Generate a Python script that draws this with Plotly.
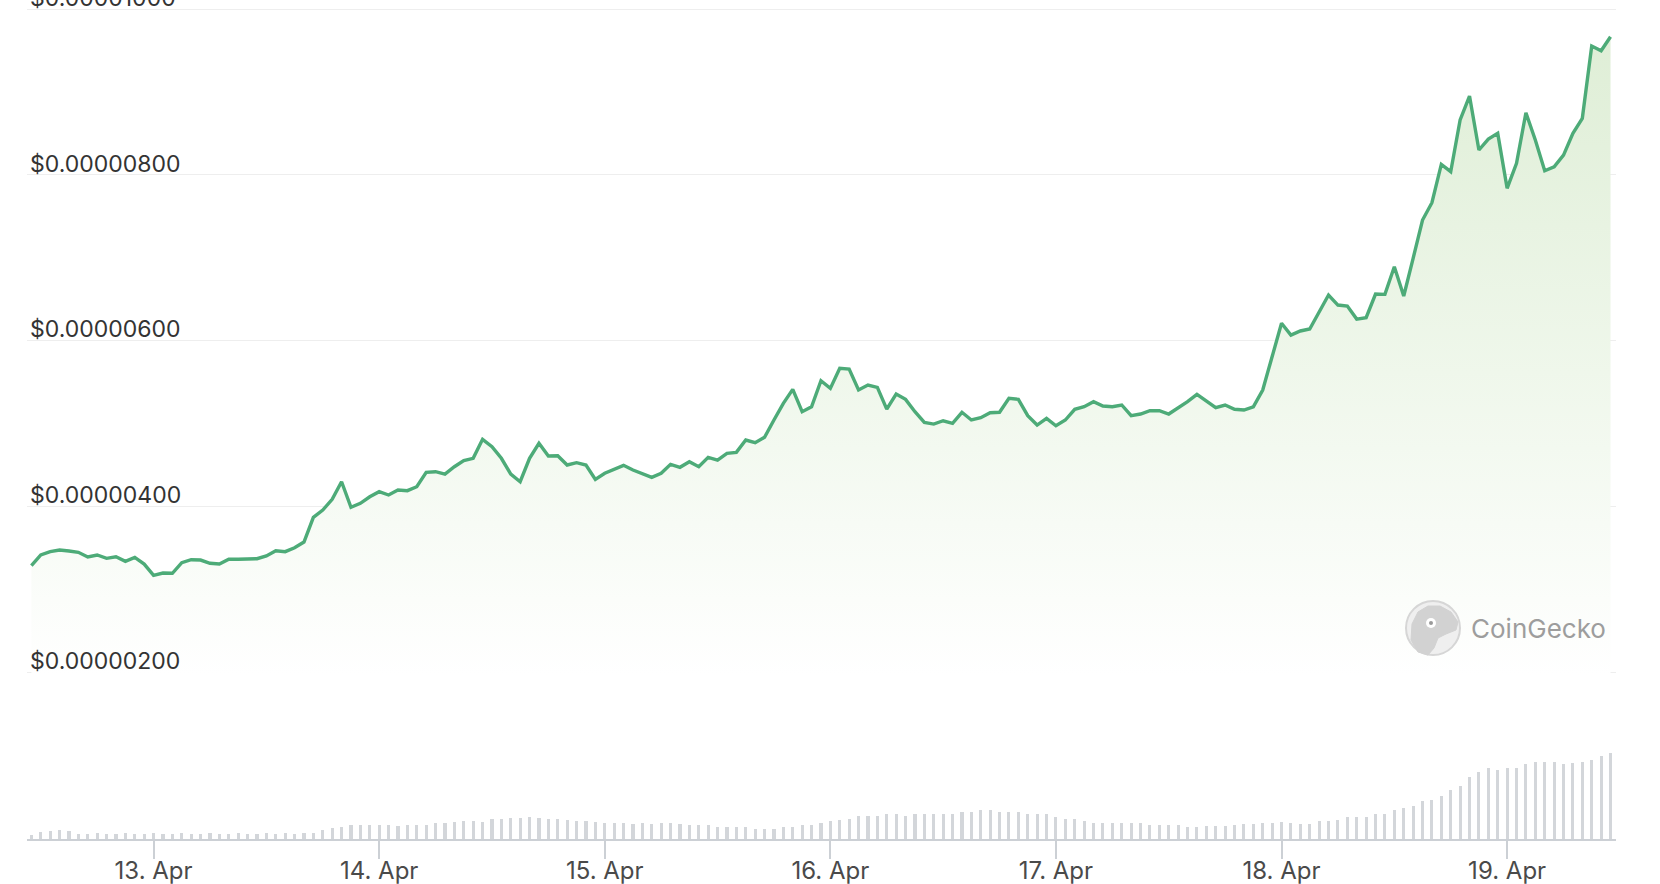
import pandas as pd
import plotly.graph_objects as go

# ---------------- data ----------------
start_time = "2024-04-12 11:00"
n_hours = 169

# price in micro-dollars (1e-6 USD), hourly
price_micro = [
    3.283, 3.412, 3.452, 3.472, 3.460, 3.444, 3.388, 3.412, 3.372, 3.391,
    3.336, 3.384, 3.303, 3.167, 3.195, 3.191, 3.319, 3.355, 3.351, 3.312,
    3.303, 3.360, 3.360, 3.364, 3.367, 3.400, 3.464, 3.452, 3.500, 3.569,
    3.867, 3.955, 4.084, 4.296, 3.987, 4.036, 4.115, 4.176, 4.136, 4.196,
    4.188, 4.236, 4.410, 4.417, 4.389, 4.477, 4.550, 4.579, 4.808, 4.719,
    4.579, 4.389, 4.296, 4.579, 4.760, 4.606, 4.610, 4.498, 4.526, 4.498,
    4.325, 4.398, 4.449, 4.494, 4.437, 4.389, 4.349, 4.398, 4.506, 4.470,
    4.538, 4.477, 4.591, 4.558, 4.639, 4.651, 4.799, 4.767, 4.832, 5.041,
    5.242, 5.411, 5.141, 5.201, 5.515, 5.423, 5.665, 5.656, 5.403, 5.463,
    5.435, 5.173, 5.354, 5.290, 5.141, 5.013, 4.992, 5.032, 5.001, 5.134,
    5.041, 5.069, 5.129, 5.134, 5.303, 5.290, 5.093, 4.980, 5.061, 4.972,
    5.041, 5.170, 5.201, 5.262, 5.210, 5.201, 5.222, 5.093, 5.113, 5.153,
    5.153, 5.113, 5.182, 5.262, 5.351, 5.274, 5.189, 5.222, 5.170, 5.161,
    5.201, 5.403, 5.789, 6.208, 6.066, 6.115, 6.139, 6.348, 6.549, 6.428,
    6.416, 6.259, 6.275, 6.561, 6.557, 6.891, 6.537, 6.992, 7.454, 7.663,
    8.126, 8.037, 8.661, 8.950, 8.299, 8.431, 8.500, 7.837, 8.138, 8.749,
    8.419, 8.049, 8.097, 8.238, 8.500, 8.681, 9.554, 9.497, 9.666,
]

# hourly volume (relative units)
volume = [
    4, 7, 8, 9, 8, 5, 5, 6, 5, 5,
    6, 5, 5, 6, 5, 5, 6, 5, 5, 6,
    5, 5, 6, 5, 5, 6, 5, 6, 5, 6,
    6, 9, 10.7, 11.7, 14, 14, 14, 14, 14, 13,
    14, 14, 14, 15.7, 16.3, 17.3, 18, 18, 17.3, 19.7,
    20, 21, 21, 22, 21, 20, 20, 19, 18, 18,
    17, 16.1, 16.1, 16.1, 15.4, 16.1, 15.4, 16.1, 16.1, 15.4,
    13.9, 13.9, 13.9, 11.8, 11.8, 11.8, 11.8, 9.6, 9.6, 9.6,
    11.8, 11.8, 13.9, 13.9, 16.1, 18.2, 18.9, 20.4, 22.9, 22.9,
    22.9, 24.6, 24.6, 22.9, 24.6, 24.6, 24.6, 24.6, 24.6, 26.8,
    26.8, 28.9, 28.9, 26.8, 26.8, 26.8, 24.6, 24.6, 24.6, 22.5,
    20.4, 20.4, 18.2, 16.1, 16.1, 16.1, 16.1, 16.1, 16.1, 13.9,
    13.9, 13.9, 13.9, 11.8, 12.5, 13, 13, 13, 14, 15,
    15, 16, 16, 17, 16, 15, 15, 17.7, 17.7, 19.3,
    21.7, 21.7, 21.7, 25, 25, 29, 31, 33.3, 37.7, 39.3,
    43.3, 49, 53.3, 61.7, 67.3, 71, 69.3, 71, 71, 75,
    77.3, 77.3, 77.3, 75, 75.7, 77.3, 79.3, 83.3, 85.7,
]

price_ticks = [2e-6, 4e-6, 6e-6, 8e-6, 10e-6]
price_tick_text = ["$0.00000200", "$0.00000400", "$0.00000600",
                   "$0.00000800", "$0.00001000"]

times = pd.date_range(start_time, periods=n_hours, freq="h")
price = [v * 1e-6 for v in price_micro]

# ---------------- layout geometry ----------------
W, H = 1660, 884
ML, MR, MT, MB = 27, 44, 0, 45
PW, PH = W - ML - MR, H - MT - MB

def px(xp):
    return (xp - ML) / PW

def py(yp):
    return (H - MB - yp) / PH

price_lo, price_hi = 1.952e-6, 10.109e-6
x_lo, x_hi = "2024-04-12 10:32", "2024-04-19 11:35"

LINE = "#4dab78"
FONT = "Inter, 'Liberation Sans', Arial, sans-serif"

fig = go.Figure()

fig.add_trace(go.Bar(
    x=times, y=volume, xaxis="x", yaxis="y2",
    marker=dict(color="#d3d6da", line=dict(width=0)),
    width=0.33 * 3600 * 1000, hoverinfo="skip", showlegend=False,
))

fig.add_trace(go.Scatter(
    x=times, y=price, xaxis="x2", yaxis="y",
    mode="lines", line=dict(color=LINE, width=3.4),
    fill="tozeroy",
    fillgradient=dict(
        type="vertical",
        start=price_lo, stop=price_hi,
        colorscale=[[0, "rgba(255,255,255,1)"], [0.45, "#eff7eb"], [1, "#ddedd4"]],
    ),
    showlegend=False,
))

fig.update_layout(
    width=W, height=H,
    margin=dict(l=ML, r=MR, t=MT, b=MB, autoexpand=False),
    paper_bgcolor="white", plot_bgcolor="white",
    font=dict(family=FONT, color="#333333"),
    bargap=0,
    xaxis=dict(
        range=[x_lo, x_hi], anchor="y2",
        type="date", tickformat="%-d. %b",
        dtick=86400000, tick0="2024-04-13",
        showgrid=False, zeroline=False,
        showline=True, linecolor="#ccd0d5", linewidth=2,
        ticks="outside", ticklen=18, tickwidth=1.5, tickcolor="#ccd0d5",
        ticklabelstandoff=-9,
        tickfont=dict(size=24, color="#4a4a4a", family=FONT),
        automargin=False,
        fixedrange=True,
    ),
    xaxis2=dict(
        range=[x_lo, x_hi], anchor="y", type="date",
        visible=False, fixedrange=True,
    ),
    yaxis=dict(
        domain=[py(676), 1.0],
        range=[price_lo, price_hi],
        anchor="x2",
        tickvals=price_ticks, ticktext=price_tick_text,
        ticklabelposition="inside top",
        ticklabeloverflow="allow",
        ticklabelshift=5,
        showgrid=True, gridcolor="#eeeeee", gridwidth=1,
        zeroline=False, showline=False, ticks="",
        tickfont=dict(size=23, color="#333333", family=FONT),
        automargin=False,
        fixedrange=True,
    ),
    yaxis2=dict(
        domain=[0, 90 / PH],
        range=[0, 90],
        showgrid=False, zeroline=False, showline=False,
        showticklabels=False, ticks="",
        fixedrange=True,
    ),
)

# ---------------- CoinGecko watermark ----------------
cx, cy, r = 1433, 628, 27
fig.add_shape(type="circle", xref="paper", yref="paper",
              x0=px(cx - r), x1=px(cx + r), y0=py(cy + r), y1=py(cy - r),
              fillcolor="#efefef", line=dict(color="#d6d6d6", width=2))
gecko = [(1411, 640), (1412, 624), (1418, 612), (1428, 606), (1440, 606),
         (1451, 612), (1458, 622), (1456, 630), (1446, 634), (1438, 638),
         (1434, 648), (1428, 655), (1418, 652)]
path = "M " + " L ".join(f"{px(a):.5f},{py(b):.5f}" for a, b in gecko) + " Z"
fig.add_shape(type="path", xref="paper", yref="paper", path=path,
              fillcolor="#d2d2d2", line=dict(color="#d2d2d2", width=1))
fig.add_shape(type="circle", xref="paper", yref="paper",
              x0=px(1426), x1=px(1436), y0=py(628), y1=py(618),
              fillcolor="#ffffff", line=dict(width=0))
fig.add_shape(type="circle", xref="paper", yref="paper",
              x0=px(1429), x1=px(1433), y0=py(625), y1=py(621),
              fillcolor="#9a9a9a", line=dict(width=0))
fig.add_annotation(text="CoinGecko", xref="paper", yref="paper",
                   x=px(1469), y=py(628), xanchor="left", yanchor="middle",
                   showarrow=False,
                   font=dict(size=26, color="#9d9d9d", family=FONT))

fig.write_html("out.html", config={"displayModeBar": False},
               post_script="document.body.style.margin='0px';")
